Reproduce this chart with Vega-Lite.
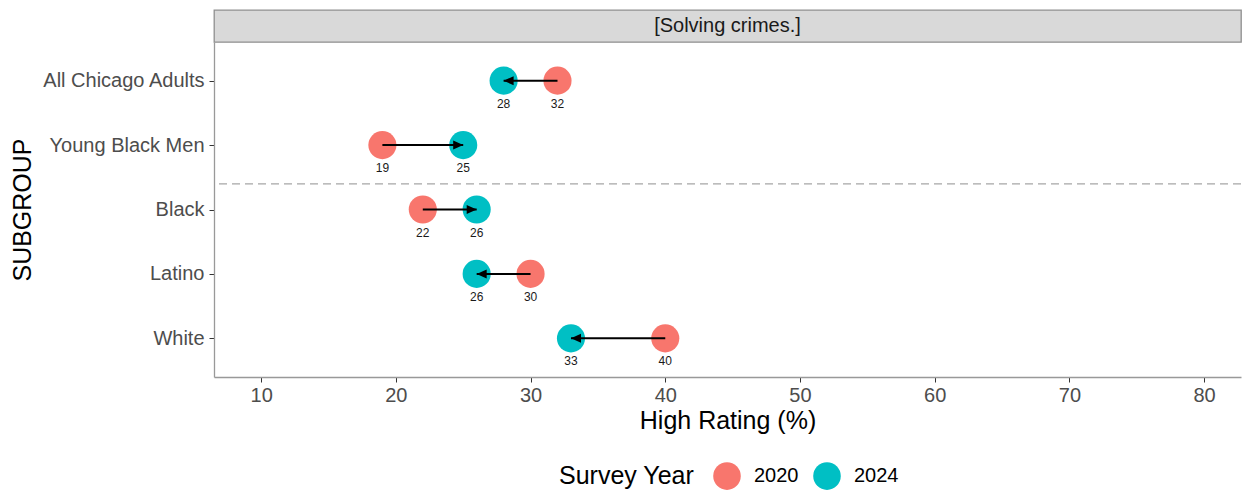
{
  "$schema": "https://vega.github.io/schema/vega-lite/v6.json",
  "padding": {"left": 10, "top": 9, "right": 0, "bottom": 0},
  "spacing": 0,
  "bounds": "flush",
  "config": {
    "font": "Liberation Sans",
    "axis": {
      "grid": false,
      "labelFontSize": 20,
      "labelColor": "#4D4D4D",
      "titleFontSize": 25,
      "titleFontWeight": "normal",
      "titleColor": "#000000",
      "tickColor": "#333333",
      "tickSize": 5,
      "domainColor": "#999999",
      "domainWidth": 1.3
    }
  },
  "datasets": {
    "rating": [
      {"group": "All Chicago Adults", "2020": 32, "2024": 28},
      {"group": "Young Black Men", "2020": 19, "2024": 25},
      {"group": "Black", "2020": 22, "2024": 26},
      {"group": "Latino", "2020": 30, "2024": 26},
      {"group": "White", "2020": 40, "2024": 33}
    ],
    "strip": [{"label": "[Solving crimes.]"}]
  },
  "vconcat": [
    {
      "data": {"name": "strip"},
      "width": 1027,
      "height": 32,
      "view": {"fill": "#D9D9D9", "stroke": "#8f8f8f", "strokeWidth": 1.3},
      "mark": {"type": "text", "fontSize": 20, "color": "#1A1A1A", "baseline": "middle"},
      "encoding": {"text": {"field": "label", "type": "nominal"}}
    },
    {
      "data": {"name": "rating"},
      "width": 1027,
      "height": 335,
      "view": {"stroke": null},
      "encoding": {
        "y": {
          "field": "group",
          "type": "nominal",
          "scale": {
            "type": "point",
            "padding": 0.6,
            "domain": ["All Chicago Adults", "Young Black Men", "Black", "Latino", "White"]
          },
          "axis": {"title": "SUBGROUP", "labelPadding": 5, "labelLimit": 0, "titlePadding": 6}
        }
      },
      "layer": [
        {
          "data": {"values": [{"k": 1}]},
          "mark": {"type": "rule", "strokeDash": [8, 5], "color": "#a6a6a6", "strokeWidth": 1.3, "yOffset": 38.7},
          "encoding": {"y": {"datum": "Young Black Men", "type": "nominal"}}
        },
        {
          "transform": [{"fold": ["2020", "2024"], "as": ["year", "value"]}],
          "mark": {"type": "circle", "size": 790, "opacity": 1},
          "encoding": {
            "x": {
              "field": "value",
              "type": "quantitative",
              "scale": {"domain": [6.5, 82.74], "nice": false, "zero": false},
              "axis": {"title": "High Rating (%)", "values": [10, 20, 30, 40, 50, 60, 70, 80], "labelPadding": 3, "titlePadding": 3}
            },
            "color": {
              "field": "year",
              "type": "nominal",
              "scale": {"domain": ["2020", "2024"], "range": ["#F8766D", "#00BFC4"]},
              "legend": {
                "title": "Survey Year",
                "orient": "none",
                "legendX": 345,
                "legendY": 452,
                "direction": "horizontal",
                "titleOrient": "left",
                "titleFontSize": 25,
                "titleFontWeight": "normal",
                "titleColor": "#000000",
                "titlePadding": 18,
                "labelFontSize": 20,
                "labelColor": "#000000",
                "labelOffset": 13,
                "columnPadding": 14,
                "symbolType": "circle",
                "symbolSize": 760,
                "symbolOpacity": 1,
                "symbolStrokeWidth": 0
              }
            }
          }
        },
        {
          "mark": {"type": "rule", "color": "#000000", "strokeWidth": 2},
          "encoding": {
            "x": {"field": "2020", "type": "quantitative"},
            "x2": {"field": "2024"}
          }
        },
        {
          "mark": {"type": "point", "filled": true, "size": 100, "color": "#000000", "opacity": 1},
          "encoding": {
            "x": {"field": "2024", "type": "quantitative"},
            "shape": {
              "condition": {"test": "datum['2024'] < datum['2020']", "value": "M0,0L2,-0.9L2,0.9Z"},
              "value": "M0,0L-2,-0.9L-2,0.9Z"
            }
          }
        },
        {
          "transform": [{"fold": ["2020", "2024"], "as": ["year", "value"]}],
          "mark": {"type": "text", "dy": 23, "fontSize": 12, "color": "#1A1A1A"},
          "encoding": {
            "x": {"field": "value", "type": "quantitative"},
            "text": {"field": "value", "type": "quantitative"}
          }
        }
      ]
    }
  ]
}
